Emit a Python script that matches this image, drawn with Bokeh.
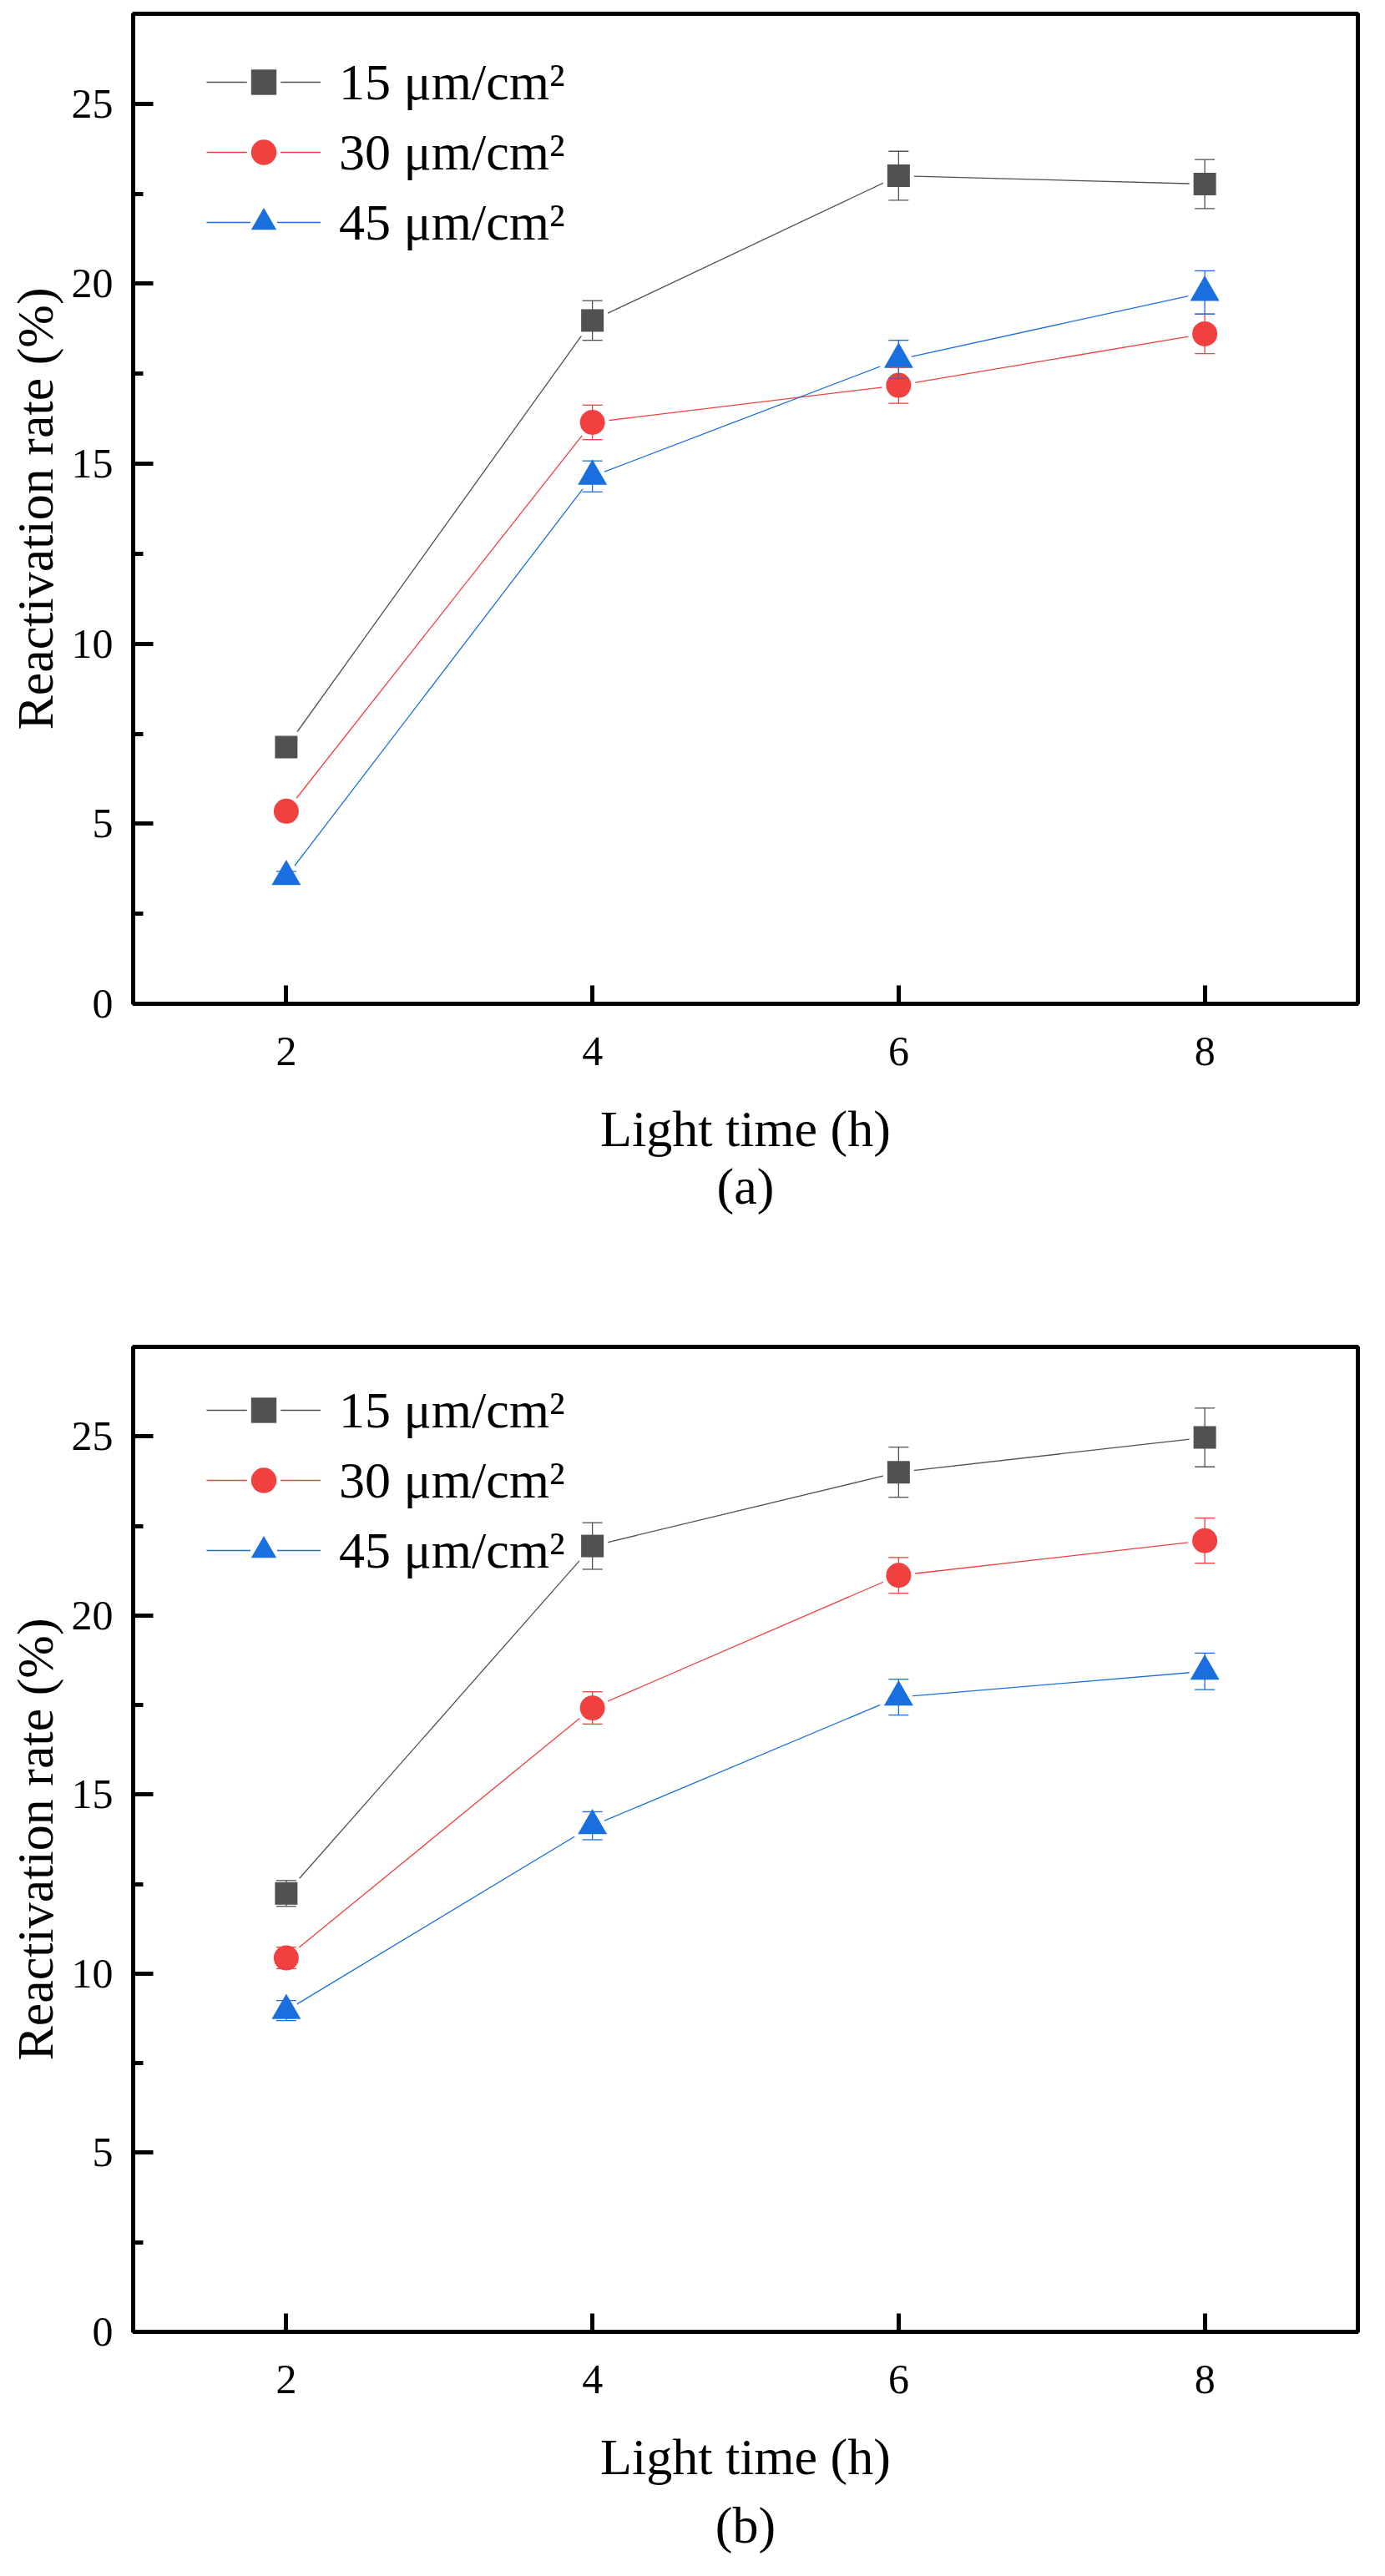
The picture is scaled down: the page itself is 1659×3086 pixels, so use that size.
from bokeh.plotting import figure
from bokeh.models import (Range1d, ColumnDataSource, Whisker, TeeHead, Legend, LegendItem,
                          FixedTicker, SingleIntervalTicker, Title)
from bokeh.layouts import column
from bokeh.embed import file_html
from bokeh.resources import INLINE

# light time (h)
hours = [2, 4, 6, 8]
x_ticks = [2, 4, 6, 8]

# panel (a): reactivation rate (%) and error bars
a_15 = [7.13, 18.98, 23.00, 22.77]
a_15_err = [0.15, 0.55, 0.68, 0.68]
a_30 = [5.35, 16.15, 17.18, 18.61]
a_30_err = [0.15, 0.48, 0.50, 0.55]
a_45 = [3.53, 14.65, 17.90, 19.76]
a_45_err = [0.15, 0.43, 0.53, 0.60]

# panel (b)
b_15 = [12.24, 21.94, 24.00, 24.97]
b_15_err = [0.36, 0.65, 0.70, 0.82]
b_30 = [10.44, 17.42, 21.12, 22.09]
b_30_err = [0.30, 0.45, 0.50, 0.63]
b_45 = [8.97, 14.13, 17.72, 18.44]
b_45_err = [0.28, 0.39, 0.50, 0.51]

labels = ["15 μm/cm²", "30 μm/cm²", "45 μm/cm²"]
colors = ["#515151", "#F14040", "#1A6FDF"]
markers = ["square", "circle", "triangle"]
marker_sizes = [27, 30, 35]

FONT = "Liberation Serif"


def make_panel(series, errors, caption, fig_height, bottom_border, caption_standoff):
    p = figure(width=1643, height=fig_height, x_range=Range1d(1, 9), y_range=Range1d(0, 27.5),
               output_backend="svg", toolbar_location=None, tools="",
               min_border_left=159, min_border_right=17, min_border_top=16,
               min_border_bottom=bottom_border)
    p.grid.visible = False
    p.background_fill_color = "white"
    p.border_fill_color = "white"
    p.outline_line_color = "black"
    p.outline_line_width = 5
    p.outline_line_alpha = 1

    sources = []
    for vals, errs in zip(series, errors):
        sources.append(ColumnDataSource(data={
            "x": hours, "y": vals,
            "lo": [v - e for v, e in zip(vals, errs)],
            "hi": [v + e for v, e in zip(vals, errs)]}))

    # lines first, then a white halo so lines stop short of the markers
    line_rs = []
    for src, c in zip(sources, colors):
        line_rs.append(p.line(x="x", y="y", source=src, line_color=c, line_width=1.3))
    halo_rs = []
    for src, m, s in zip(sources, markers, marker_sizes):
        halo_rs.append(p.scatter(x="x", y="y", source=src, marker=m, size=s,
                                 fill_color="white", line_color="white",
                                 line_width=10, line_join="round"))
    dot_rs = []
    for src, c, m, s in zip(sources, colors, markers, marker_sizes):
        dot_rs.append(p.scatter(x="x", y="y", source=src, marker=m, size=s,
                                fill_color=c, line_color=c, line_width=0))

    for src, c in zip(sources, colors):
        w = Whisker(base="x", upper="hi", lower="lo", source=src, level="overlay",
                    line_color=c, line_width=1.3,
                    upper_head=TeeHead(size=24, line_color=c, line_width=1.3),
                    lower_head=TeeHead(size=24, line_color=c, line_width=1.3))
        p.add_layout(w)

    items = []
    for lab, lr, hr, dr in zip(labels, line_rs, halo_rs, dot_rs):
        items.append(LegendItem(label=lab, renderers=[lr, hr, dr]))
    legend = Legend(items=items, location=(88, 898), orientation="vertical",
                    glyph_width=137, glyph_height=76, label_height=76, spacing=8,
                    padding=0, margin=0, label_standoff=22,
                    label_text_font=FONT, label_text_font_size="62px",
                    label_text_color="black",
                    border_line_alpha=0, background_fill_alpha=0)
    p.add_layout(legend)

    p.xaxis.ticker = FixedTicker(ticks=x_ticks, minor_ticks=[])
    p.yaxis.ticker = SingleIntervalTicker(interval=5, num_minor_ticks=2)

    for ax in (p.xaxis, p.yaxis):
        ax.axis_line_width = 5
        ax.axis_line_color = "black"
        ax.major_tick_line_width = 5
        ax.minor_tick_line_width = 5
        ax.major_tick_line_color = "black"
        ax.minor_tick_line_color = "black"
        ax.major_tick_out = 0
        ax.minor_tick_out = 0
        ax.major_label_text_font = FONT
        ax.major_label_text_font_size = "50px"
        ax.major_label_text_color = "black"
        ax.axis_label_text_font = FONT
        ax.axis_label_text_font_size = "62px"
        ax.axis_label_text_font_style = "normal"
        ax.axis_label_text_color = "black"

    p.xaxis.major_tick_in = 22
    p.xaxis.minor_tick_in = 0
    p.xaxis.major_label_standoff = 40
    p.xaxis.axis_label = "Light time (h)"
    p.xaxis.axis_label_standoff = 39

    p.yaxis.major_tick_in = 24
    p.yaxis.minor_tick_in = 12
    p.yaxis.major_label_standoff = 24
    p.yaxis.axis_label = "Reactivation rate (%)"
    p.yaxis.axis_label_standoff = 7

    p.add_layout(Title(text=caption, align="center", text_font=FONT, text_font_size="62px",
                       text_font_style="normal", text_color="black",
                       standoff=caption_standoff), "below")
    return p


plot_a = make_panel([a_15, a_30, a_45], [a_15_err, a_30_err, a_45_err], "(a)", 1597, 395, -8)
plot_b = make_panel([b_15, b_30, b_45], [b_15_err, b_30_err, b_45_err], "(b)", 1470, 268, 18)

page = column(plot_a, plot_b)

open("out.html", "w").write(file_html(page, INLINE))
